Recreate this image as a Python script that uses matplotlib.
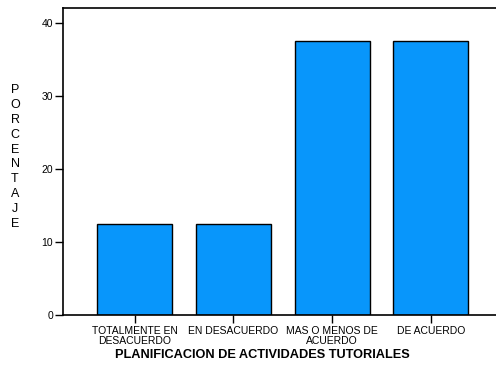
import matplotlib
matplotlib.use('Agg')
import matplotlib.pyplot as plt

# datos del grafico
categorias = ['TOTALMENTE EN\nDESACUERDO', 'EN DESACUERDO', 'MAS O MENOS DE\nACUERDO', 'DE ACUERDO']
porcentajes = [12.5, 12.5, 37.5, 37.5]
yticks = [0, 10, 20, 30, 40]

plt.rcParams['font.family'] = ['Liberation Sans', 'DejaVu Sans']

fig = plt.figure(figsize=(4.96, 3.65), dpi=100)
ax = fig.add_axes([63 / 496, 50 / 365, 1 - 63 / 496, 307 / 365])

x = range(len(categorias))
ax.bar(x, porcentajes, width=0.76, color='#0896fb', edgecolor='black', linewidth=1.0)

ax.set_xlim(-0.724, 3.66)
ax.set_ylim(0, 42)
ax.set_yticks(yticks)
ax.set_xticks(list(x))
ax.set_xticklabels(categorias, fontsize=7.5, linespacing=0.95)
ax.tick_params(axis='y', labelsize=7.5, length=6, width=1, pad=1)
ax.tick_params(axis='x', length=6, width=1, pad=2)
ax.spines['right'].set_visible(False)
for s in ['top', 'left', 'bottom']:
    ax.spines[s].set_linewidth(1.2)

ax.set_xlabel('PLANIFICACION DE ACTIVIDADES TUTORIALES', fontsize=9.2, fontweight='bold')
ax.xaxis.set_label_coords(0.46, -0.11)
fig.text(15 / 496, 1 - 157 / 365, '\n'.join('PORCENTAJE'), fontsize=9,
         ha='center', va='center', linespacing=1.32)

fig.savefig('out.png', dpi=100)
